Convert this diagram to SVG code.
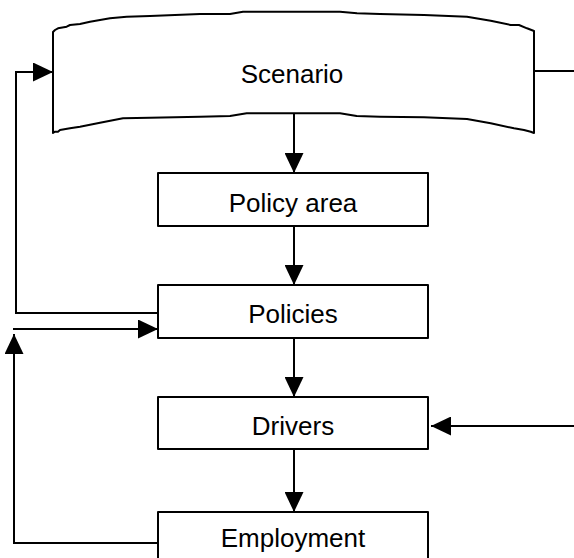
<svg xmlns="http://www.w3.org/2000/svg" width="574" height="558" viewBox="0 0 574 558">
  <style>
    .box { fill: #ffffff; stroke: #000000; stroke-width: 2; stroke-linejoin: round; }
    .label { font-family: "Liberation Sans", Arial, sans-serif; font-size: 26px; fill: #000000; text-anchor: middle; }
    .wire { fill: none; stroke: #000000; stroke-width: 2; }
    .arrow { marker-end: url(#head); }
  </style>
  <defs>
    <marker id="head" viewBox="0 0 20 19" refX="20" refY="9.5" markerWidth="20" markerHeight="19" markerUnits="userSpaceOnUse" orient="auto">
      <path d="M0,0 L20,9.5 L0,19 Z" fill="#000000"/>
    </marker>
  </defs>
  <rect width="574" height="558" fill="#ffffff"/>

  <g id="connectors">
    <!-- vertical flow down the middle -->
    <path class="wire arrow" d="M294,113 V173"/>
    <path class="wire arrow" d="M294,226 V285"/>
    <path class="wire arrow" d="M294,338 V397"/>
    <path class="wire arrow" d="M294,449 V512"/>
    <!-- feedback loops on the left -->
    <path class="wire arrow" d="M158,313 H16 V72 H53"/>
    <path class="wire arrow" d="M158,543 H14 V334"/>
    <path class="wire arrow" d="M13,329 H158"/>
    <!-- links on the right -->
    <path class="wire" d="M534,71 H574"/>
    <path class="wire arrow" d="M574,426 H431"/>
  </g>

  <g id="scenario">
    <path class="box" d="M53,32 L55,30 L58,28.3 L66.7,26.7 L70,25 L80,24 L90,21.7 L110,18.3 L126.7,16.7 L150,16 L200,14 L230,14 L243,11.7 L340,11.7 L357,13.3 L380,14 L424,15 L467,16.7 L490.7,20.7 L510.7,25 L519,25 L527,28.3 L534,31 L534,133 L530.7,131.7 L524,130 L514,128.3 L490.7,123.3 L467,119 L424,117.3 L380,116.7 L356.7,116 L340,113.3 L246.7,113.3 L230,116 L200,116.7 L150,117.7 L123,118.3 L100,122.7 L80,126.7 L70,128.3 L60,130 L58,131.7 L55,131.7 L53,133 Z"/>
    <text class="label" x="292" y="83">Scenario</text>
  </g>

  <g id="policy-area">
    <rect class="box" x="158" y="173" width="270" height="53"/>
    <text class="label" x="293" y="212">Policy area</text>
  </g>

  <g id="policies">
    <rect class="box" x="158" y="285" width="270" height="53"/>
    <text class="label" x="293" y="323">Policies</text>
  </g>

  <g id="drivers">
    <rect class="box" x="158" y="397" width="270" height="52"/>
    <text class="label" x="293" y="435">Drivers</text>
  </g>

  <g id="employment">
    <rect class="box" x="158" y="512" width="270" height="52"/>
    <text class="label" x="293" y="547">Employment</text>
  </g>
</svg>
